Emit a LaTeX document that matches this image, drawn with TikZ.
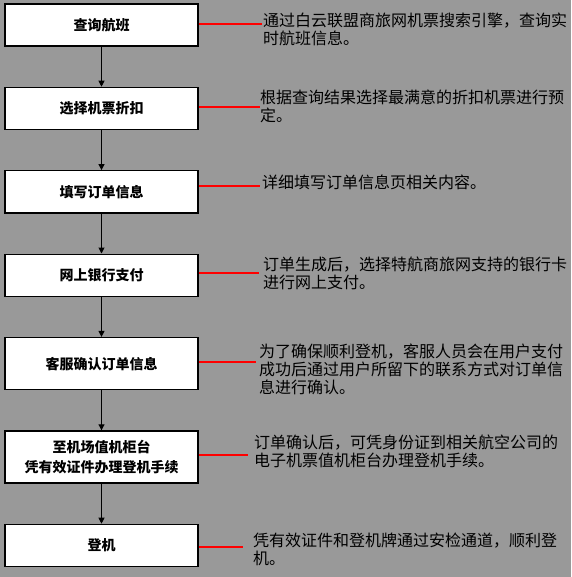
\documentclass[tikz,border=0pt]{standalone}
\usepackage{fontspec}
\setmainfont{Noto Sans CJK SC}
\usetikzlibrary{positioning,arrows.meta}
\definecolor{bggray}{RGB}{153,153,153}

\begin{document}
\begin{tikzpicture}[x=1pt,y=-1pt,
  stepbox/.style={draw=black,line width=1.4pt,fill=white,minimum width=193pt,
    minimum height=42pt,inner sep=0pt,align=center,
    font=\bfseries\fontsize{14}{20}\selectfont},
  note/.style={anchor=north west,inner sep=0pt,align=left,
    font=\fontsize{16}{18}\selectfont},
  flow/.style={line width=1pt,-{Triangle[length=6pt,width=6pt]}},
  link/.style={red,line width=2pt}]

\fill[bggray] (0,0) rectangle (571,577);
\useasboundingbox (0,0) rectangle (571,577);

% steps
\node[stepbox] (b1) at (101.5,25) {查询航班};
\node[stepbox,below=40pt of b1] (b2) {选择机票折扣};
\node[stepbox,below=40pt of b2] (b3) {填写订单信息};
\node[stepbox,below=40pt of b3] (b4) {网上银行支付};
\node[stepbox,minimum height=52pt,below=40pt of b4] (b5) {客服确认订单信息};
\node[stepbox,minimum height=52pt,below=40pt of b5] (b6) {至机场值机柜台\\凭有效证件办理登机手续};
\node[stepbox,below=40pt of b6] (b7) {登机};

% notes
\node[note] (d1) at (263,13) {通过白云联盟商旅网机票搜索引擎，查询实\\时航班信息。};
\node[note] (d2) at (260,90) {根据查询结果选择最满意的折扣机票进行预\\定。};
\node[note] (d3) at (262,175) {详细填写订单信息页相关内容。};
\node[note] (d4) at (263,257) {订单生成后，选择特航商旅网支持的银行卡\\进行网上支付。};
\node[note] (d5) at (259,344) {为了确保顺利登机，客服人员会在用户支付\\成功后通过用户所留下的联系方式对订单信\\息进行确认。};
\node[note] (d6) at (254,435) {订单确认后，可凭身份证到相关航空公司的\\电子机票值机柜台办理登机手续。};
\node[note] (d7) at (253,533) {凭有效证件和登机牌通过安检通道，顺利登\\机。};

\foreach \a/\b in {b1/b2,b2/b3,b3/b4,b4/b5,b5/b6,b6/b7}
  \draw[flow] (\a) -- (\b);

\foreach \i/\dy/\g in {1/1/1,2/1/0,3/5.5/2,4/2/4,5/2/3,6/2/6,7/-1.5/10}
  \draw[link,shorten >=\g pt] ([yshift=\dy pt]b\i.east) coordinate (s\i) -- (s\i -| d\i.west);
\end{tikzpicture}
\end{document}
